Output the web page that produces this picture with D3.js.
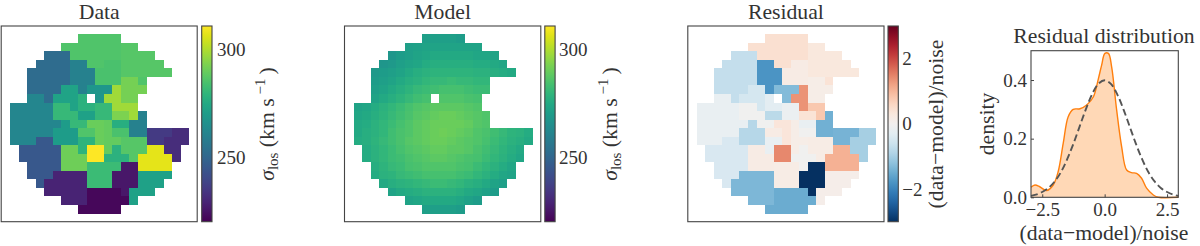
<!DOCTYPE html>
<html><head><meta charset="utf-8">
<script src="https://cdn.jsdelivr.net/npm/d3@7"></script>
<style>html,body{margin:0;padding:0;background:#fff}svg{display:block}text{font-family:"Liberation Serif",serif;fill:#333}</style>
</head><body><div id="chart"></div>
<script>
const titles = ["Data", "Model", "Residual", "Residual distribution"];
const sigmaTicks = [250, 300];
const residualTicks = [-2, 0, 2];
const sigmaDomain = [220.5, 310.8];
const residualDomain = [-3, 3];
// spatial bins (one letter = one bin, '.' = no data)
const binMap = [
"........aaaaa........",
"......aaaaaaacc......",
"....dddaaaaaacccc....",
"...ddddeeaabbccccc...",
"..dddddeeebbbcccccc..",
"..dddddeeebbbffg.....",
"..ddddhhejjjkfff.....",
"..lldhhhn.jkkff......",
"llllloohnnppkqq......",
"lllllooorrppssqt.....",
"llllllxoouuvwwtt.....",
"lllllxxxyyuvzzttAAABB",
"lllCCxxxDDuvvEEEAABBB",
".CCCCCFFDGGvHEEEIIBB.",
".CCCCCFFFGGHHHEIIIIB.",
"..CCCCFFFJJJKLLIIII..",
"..CCCMMMMJJJLLLNNNN..",
"...CMMMMMJJJLLLNNN...",
"....MMMMMOOOOLNNN....",
"......MMMOOOOON......",
"........OOOOO........"];
const binIds   = "abcdefghjklnopqrstuvwxyzABCDEFGHIJKLMNO".split("");
const dataVals = [286,285,287,252,260,292,286,273,268,298,262,278,281,281,298,272,293,260,290,289,277,270,286,285,236,232,245,279,287,291,311,278,307,282,282,226,229,272,222];
const residVals= [.45,.2,.3,-.7,-1.8,.15,.4,-.5,-1.3,1.35,-.2,-.3,-.05,-.15,.8,-.8,.4,-1.45,.35,.15,-.2,-.85,.2,-.05,-1.4,-1.0,-.45,-.2,.18,.2,1.45,-.05,1.05,.18,-.03,-3,-1.35,.12,-1.5];
const _ = null;
const modelRows = [
[_,_,_,_,_,_,_,_,271,271,271,271,270,_,_,_,_,_,_,_,_],
[_,_,_,_,_,_,271,272,273,273,273,273,273,273,273,_,_,_,_,_,_],
[_,_,_,_,268,270,271,273,274,275,275,275,275,275,274,274,273,_,_,_,_],
[_,_,_,268,269,271,273,274,276,277,277,277,277,277,276,276,275,274,_,_,_],
[_,_,269,270,271,273,275,277,278,279,279,279,279,279,278,278,277,276,275,_,_],
[_,_,270,271,273,275,277,278,280,281,281,282,281,281,280,280,_,_,_,_,_],
[_,_,271,273,275,277,279,281,282,283,284,284,284,283,282,282,_,_,_,_,_],
[_,_,273,275,277,279,281,283,284,_,286,286,286,285,284,_,_,_,_,_,_],
[273,274,276,278,280,282,284,286,287,288,288,288,288,287,286,_,_,_,_,_,_],
[274,275,277,279,281,283,285,287,288,289,290,290,289,288,287,286,_,_,_,_,_],
[275,276,278,280,282,284,286,288,289,290,290,290,290,289,287,286,_,_,_,_,_],
[275,277,278,280,283,285,286,288,289,290,291,290,289,288,286,285,283,281,279,278,276],
[276,277,279,281,283,285,287,288,289,290,290,289,288,287,286,284,282,280,278,277,275],
[_,276,278,280,282,284,286,287,288,289,289,288,288,287,285,283,281,279,277,275,_],
[_,276,278,280,282,283,285,286,287,288,288,287,286,285,284,282,280,278,276,274,_],
[_,_,277,279,281,282,284,285,286,286,286,286,285,284,282,280,278,276,274,_,_],
[_,_,276,278,279,281,282,283,284,284,284,284,283,282,280,278,276,274,273,_,_],
[_,_,_,275,277,278,279,280,281,282,282,281,280,278,277,275,273,271,_,_,_],
[_,_,_,_,273,275,276,277,278,278,278,278,277,275,274,272,270,_,_,_,_],
[_,_,_,_,_,_,273,274,275,275,275,275,274,272,270,_,_,_,_,_,_],
[_,_,_,_,_,_,_,_,271,271,271,271,270,_,_,_,_,_,_,_,_]];
const kdeX = [-2.95,-2.79,-2.6,-2.33,-2.06,-1.86,-1.66,-1.46,-1.26,-0.99,-0.72,-0.45,-0.25,-0.12,0.01,0.15,0.28,0.48,0.68,0.88,1.08,1.28,1.48,1.68,1.95,2.15,2.95];
const kdeY = [0.034,0.042,0.036,0.023,0.042,0.088,0.184,0.275,0.30,0.302,0.315,0.343,0.405,0.451,0.491,0.491,0.445,0.298,0.173,0.093,0.084,0.082,0.065,0.031,0.008,0,0];
const gaussX = [-2.95,-2.75,-2.5,-2.25,-2,-1.75,-1.5,-1.25,-1,-0.75,-0.5,-0.25,0,0.25,0.5,0.75,1,1.25,1.5,1.75,2,2.25,2.5,2.75,2.95];
const gaussY = [0.005,0.009,0.018,0.032,0.054,0.086,0.13,0.183,0.242,0.301,0.352,0.387,0.399,0.387,0.352,0.301,0.242,0.183,0.13,0.086,0.054,0.032,0.018,0.009,0.005];
const distXTicks = [-2.5, 0, 2.5];
const distYTicks = [0, 0.2, 0.4];

const W = 1200, H = 246, frame = "#444", labelSize = 21.7, tickSize = 19;
const svg = d3.select("#chart").append("svg").attr("width", W).attr("height", H);
const defs = svg.append("defs");
const sigmaColor = d3.scaleSequential(d3.interpolateViridis).domain(sigmaDomain);
const residColor = d3.scaleSequential(t => d3.interpolateRdBu(1 - t)).domain(residualDomain);
const fmt = d => String(d).replace("-", "\u2212");
const dataBy = new Map(binIds.map((b, i) => [b, dataVals[i]]));
const residBy = new Map(binIds.map((b, i) => [b, residVals[i]]));
const cellsFrom = fn => binMap.flatMap((row, r) => row.split("").map((ch, c) => ({ r, c, v: fn(ch, r, c) }))).filter(d => d.v !== null && d.v !== undefined);

function sigmaLabel(g, x, y) {
  const t = g.append("text").attr("transform", `translate(${x},${y}) rotate(-90)`).attr("text-anchor", "middle").attr("font-size", labelSize);
  t.append("tspan").attr("font-style", "italic").text("\u03c3");
  t.append("tspan").attr("font-size", 15).attr("dy", 4).text("los");
  t.append("tspan").attr("dy", -4).text(" (km s");
  t.append("tspan").attr("font-size", 15).attr("dy", -9).attr("dx", 4).text("\u22121");
  t.append("tspan").attr("dy", 9).attr("dx", 4).text(")");
}

function mapPanel(o) {
  const g = svg.append("g");
  const x = d3.scaleLinear().domain([-1.06, 21.95]).range([o.x0, o.x0 + o.w]);
  const y = d3.scaleLinear().domain([-0.98, 21.98]).range([26, 221.7]);
  g.selectAll("rect.cell").data(o.cells).join("rect").attr("class", "cell")
    .attr("shape-rendering", "crispEdges")
    .attr("x", d => x(d.c)).attr("y", d => y(d.r))
    .attr("width", d => x(d.c + 1) - x(d.c) + 0.2).attr("height", d => y(d.r + 1) - y(d.r) + 0.2)
    .attr("fill", d => o.color(d.v));
  g.append("rect").attr("x", o.x0).attr("y", 26).attr("width", o.w).attr("height", 195.7)
    .attr("fill", "none").attr("stroke", frame).attr("stroke-width", 1.1);
  g.append("text").attr("x", o.x0 + o.w / 2).attr("y", 19).attr("text-anchor", "middle").attr("font-size", labelSize).text(o.title);
  // colorbar
  const id = "cb" + o.title;
  const grad = defs.append("linearGradient").attr("id", id).attr("x1", 0).attr("x2", 0).attr("y1", 1).attr("y2", 0);
  d3.range(0, 1.001, 0.05).forEach(t => grad.append("stop").attr("offset", t)
    .attr("stop-color", o.color(o.color.domain()[0] + t * (o.color.domain()[1] - o.color.domain()[0]))));
  const cy = d3.scaleLinear().domain(o.color.domain()).range([221.7, 26]);
  g.append("rect").attr("x", o.cx).attr("y", 26).attr("width", 10.3).attr("height", 195.7)
    .attr("fill", `url(#${id})`).attr("stroke", frame).attr("stroke-width", 1.1);
  const ax = g.append("g").attr("transform", `translate(${o.cx + 10.3},0)`)
    .call(d3.axisRight(cy).tickValues(o.ticks).tickFormat(fmt).tickSize(0).tickPadding(o.pad));
  ax.select(".domain").remove();
  ax.selectAll("text").attr("font-size", tickSize).attr("font-family", "Liberation Serif").attr("fill", "#333");
  o.label(g);
}

mapPanel({ title: titles[0], x0: 1.2, w: 196, cx: 201.7, color: sigmaColor, ticks: sigmaTicks, pad: 5,
  cells: cellsFrom(ch => ch === "." ? null : dataBy.get(ch)), label: g => sigmaLabel(g, 274, 124) });
mapPanel({ title: titles[1], x0: 344.5, w: 196.3, cx: 544.8, color: sigmaColor, ticks: sigmaTicks, pad: 4,
  cells: cellsFrom((ch, r, c) => modelRows[r][c]), label: g => sigmaLabel(g, 617, 124) });
mapPanel({ title: titles[2], x0: 687.8, w: 196.2, cx: 888, color: residColor, ticks: residualTicks, pad: 4,
  cells: cellsFrom(ch => ch === "." ? null : residBy.get(ch)),
  label: g => g.append("text").attr("transform", "translate(943,124) rotate(-90)").attr("text-anchor", "middle").attr("font-size", labelSize).text("(data\u2212model)/noise") });

// distribution panel
const dx0 = 1031, dx1 = 1178.3, dy0 = 197.3, dy1 = 50.7;
const xd = d3.scaleLinear().domain([-2.95, 2.95]).range([dx0, dx1]);
const yd = d3.scaleLinear().domain([0, 0.5]).range([dy0, dy1]);
const dg = svg.append("g");
const kde = kdeX.map((v, i) => [v, kdeY[i]]);
const gauss = gaussX.map((v, i) => [v, gaussY[i]]);
const curve = d3.curveCatmullRom.alpha(0.5);
dg.append("path").datum(kde).attr("fill", "#ff7f0e").attr("fill-opacity", 0.3)
  .attr("d", d3.area().x(d => xd(d[0])).y0(dy0).y1(d => yd(d[1])).curve(curve));
dg.append("path").datum(kde).attr("fill", "none").attr("stroke", "#ff7f0e").attr("stroke-width", 1.4)
  .attr("d", d3.line().x(d => xd(d[0])).y(d => yd(d[1])).curve(curve));
dg.append("path").datum(gauss).attr("fill", "none").attr("stroke", "#555").attr("stroke-width", 1.9).attr("stroke-dasharray", "7 3.5")
  .attr("d", d3.line().x(d => xd(d[0])).y(d => yd(d[1])).curve(curve));
dg.append("rect").attr("x", dx0).attr("y", dy1).attr("width", dx1 - dx0).attr("height", dy0 - dy1)
  .attr("fill", "none").attr("stroke", frame).attr("stroke-width", 1.1);
const axX = dg.append("g").attr("transform", `translate(0,${dy0})`)
  .call(d3.axisBottom(xd).tickValues(distXTicks).tickFormat(d => fmt(d.toFixed(1))).tickSize(-3).tickPadding(5));
const axY = dg.append("g").attr("transform", `translate(${dx0},0)`)
  .call(d3.axisLeft(yd).tickValues(distYTicks).tickFormat(d => d.toFixed(1)).tickSize(-3).tickPadding(4));
[axX, axY].forEach(a => {
  a.select(".domain").remove();
  a.selectAll("line").attr("stroke", frame);
  a.selectAll("text").attr("font-size", tickSize).attr("font-family", "Liberation Serif").attr("fill", "#333");
});
dg.append("text").attr("x", 1104).attr("y", 43).attr("text-anchor", "middle").attr("font-size", labelSize).text(titles[3]);
dg.append("text").attr("x", 1104).attr("y", 240).attr("text-anchor", "middle").attr("font-size", labelSize).text("(data\u2212model)/noise");
dg.append("text").attr("transform", "translate(994,124) rotate(-90)").attr("text-anchor", "middle").attr("font-size", labelSize).text("density");
</script></body></html>
